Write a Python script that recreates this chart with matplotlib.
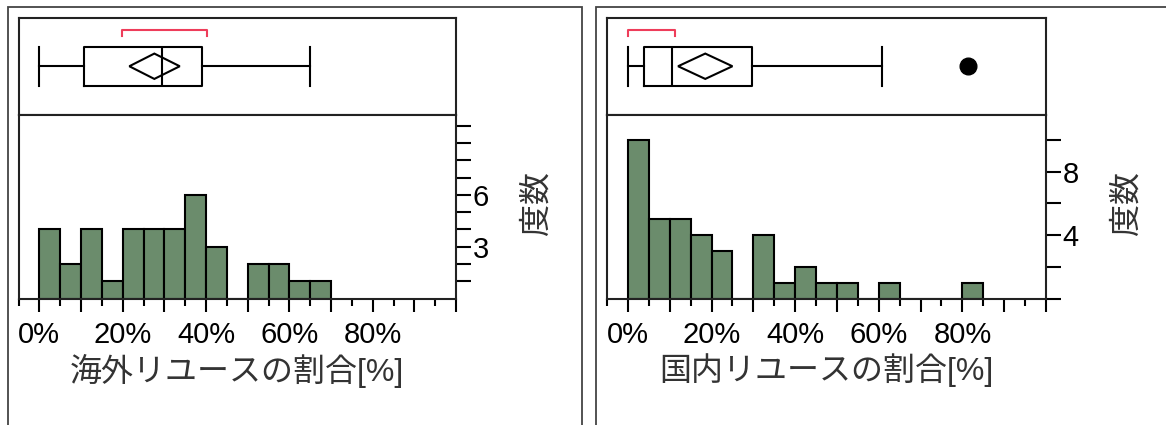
import matplotlib
matplotlib.use("Agg")
import matplotlib.pyplot as plt
from matplotlib.patches import Rectangle
from matplotlib.ticker import FixedLocator

plt.rcParams['font.family'] = ['Liberation Sans', 'Noto Sans CJK JP']

# histogram data (bin start in %, 5% wide bins)
bins_overseas = [0, 5, 10, 15, 20, 25, 30, 35, 40, 45, 50, 55, 60, 65]
counts_overseas = [4, 2, 4, 1, 4, 4, 4, 6, 3, 0, 2, 2, 1, 1]
bins_domestic = [0, 5, 10, 15, 20, 25, 30, 35, 40, 45, 50, 55, 60, 65, 70, 75, 80]
counts_domestic = [10, 5, 5, 4, 3, 0, 4, 1, 2, 1, 1, 0, 1, 0, 0, 0, 1]

# outlier box plot: whisker low, Q1, median, Q3, whisker high
box_overseas = [0.0, 10.6, 29.4, 39.1, 64.9]
box_domestic = [0.0, 3.9, 10.6, 29.8, 60.7]
outliers_overseas = []
outliers_domestic = [81.4]
# mean diamond: lower CI, mean, upper CI
mean_overseas = [21.6, 27.6, 33.7]
mean_domestic = [12.0, 18.5, 25.0]
# shortest half bracket
short_half_overseas = [19.8, 40.2]
short_half_domestic = [0.0, 11.2]

xtick_labels = ['0%', '', '20%', '', '40%', '', '60%', '', '80%', '', '']
xlabel_overseas = '海外リユースの割合[%]'
xlabel_domestic = '国内リユースの割合[%]'
ylabel = '度数'
yticks_overseas = [3, 6]
yticks_domestic = [4, 8]

W, H = 1166, 425
fig = plt.figure(figsize=(W / 100, H / 100), dpi=100)

def px_rect(x0, y0, x1, y1):
    return [x0 / W, 1 - y1 / H, (x1 - x0) / W, (y1 - y0) / H]

LW = 1.5
bar_color = '#6b8c6c'
red = '#ee3d5a'


def panel(x0, x1, bins, counts, box, fliers, mean_ci, short_half, xlabel,
          yticks, ymax, yminor):
    axb = fig.add_axes(px_rect(x0, 17.5, x1, 115))
    axh = fig.add_axes(px_rect(x0, 115, x1, 298.5))

    # box plot panel
    stats = [dict(whislo=box[0], q1=box[1], med=box[2], q3=box[3],
                  whishi=box[4], fliers=fliers)]
    lp = dict(color='black', linewidth=LW)
    axb.bxp(stats, positions=[0.5], widths=0.4, capwidths=0.4,
            orientation='horizontal', boxprops=lp, whiskerprops=lp,
            capprops=lp, medianprops=lp,
            flierprops=dict(marker='o', markerfacecolor='black',
                            markeredgecolor='black', markersize=12))
    dh = 0.13
    axb.fill([mean_ci[0], mean_ci[1], mean_ci[2], mean_ci[1]],
             [0.5, 0.5 + dh, 0.5, 0.5 - dh],
             facecolor='none', edgecolor='black', linewidth=LW, zorder=5)
    axb.plot([short_half[0], short_half[0], short_half[1], short_half[1]],
             [0.815, 0.875, 0.875, 0.815], color=red, linewidth=LW)
    axb.set_xlim(-5, 100)
    axb.set_ylim(0, 1)
    axb.set_xticks([])
    axb.set_yticks([])

    # histogram panel
    axh.bar(bins, counts, width=5, align='edge', color=bar_color,
            edgecolor='black', linewidth=LW)
    axh.set_xlim(-5, 100)
    axh.set_ylim(0, ymax)
    axh.xaxis.set_major_locator(FixedLocator(list(range(0, 101, 10))))
    axh.set_xticklabels(xtick_labels)
    axh.xaxis.set_minor_locator(FixedLocator(list(range(-5, 100, 10))))
    axh.tick_params(axis='x', which='major', length=9.5, width=LW,
                    labelsize=21, pad=7, direction='out')
    axh.tick_params(axis='x', which='minor', length=5, width=LW,
                    direction='out')
    axh.set_xlabel(xlabel, fontsize=23, color='#333333', labelpad=3)

    axh.yaxis.tick_right()
    axh.set_yticks(yticks)
    axh.yaxis.set_minor_locator(FixedLocator(yminor))
    axh.tick_params(axis='y', which='both', length=11, width=LW,
                    labelsize=21, pad=1)
    axh.text(1 + 82 / (x1 - x0), 0.52, ylabel, transform=axh.transAxes,
             rotation=90, ha='center', va='center', fontsize=23,
             color='#333333')

    for a in (axb, axh):
        for s in a.spines.values():
            s.set_linewidth(LW)
            s.set_color('#222222')


panel(18.5, 456, bins_overseas, counts_overseas, box_overseas,
      outliers_overseas, mean_overseas, short_half_overseas, xlabel_overseas,
      yticks_overseas, 10.62, [1, 2, 4, 5, 7, 8, 9, 10])
panel(607, 1046, bins_domestic, counts_domestic, box_domestic,
      outliers_domestic, mean_domestic, short_half_domestic, xlabel_domestic,
      yticks_domestic, 11.56, [0, 2, 6, 10])

# outer frames around each report
fig.add_artist(Rectangle((7.5 / W, -0.1), (582 - 7.5) / W, 1 - 6.5 / H + 0.1,
                         transform=fig.transFigure, fill=False,
                         edgecolor='#444444', linewidth=1.3))
fig.add_artist(Rectangle((596 / W, -0.1), 0.5, 1 - 6.5 / H + 0.1,
                         transform=fig.transFigure, fill=False,
                         edgecolor='#444444', linewidth=1.3))

fig.savefig('out.png', dpi=100)
